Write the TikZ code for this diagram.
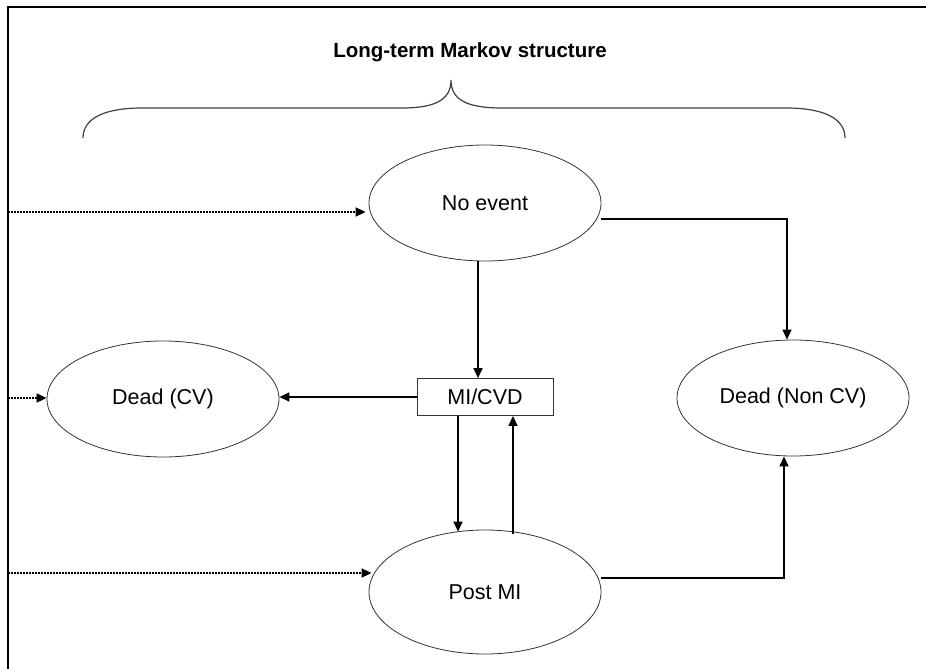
\documentclass[tikz,border=0pt]{standalone}
\usepackage{fontspec}
\setmainfont{Liberation Sans}
\usetikzlibrary{positioning,arrows.meta,shapes.geometric}

\begin{document}
\begin{tikzpicture}[
  x=1pt, y=-1pt,
  font=\fontsize{21.5}{25}\selectfont,
  state/.style={draw=black!80, line width=0.8pt, ellipse, minimum width=232pt, minimum height=116pt, inner sep=0pt},
  event/.style={draw=black!80, line width=0.8pt, minimum width=136pt, minimum height=37pt, inner sep=0pt},
  ar/.style={-{Triangle[length=10pt,width=9pt]}, line width=1.4pt, black},
  feed/.style={ar, dash pattern=on 1.5pt off 1.5pt, line width=1.6pt},
]
\useasboundingbox (0,0) rectangle (926,669);
% --- frame and heading ---
\draw[line width=1.5pt] (8,669) -- (8,7) -- (926,7);
\node[font=\fontsize{20.5}{24}\selectfont\bfseries] (title) at (470,52) {Long-term Markov structure};
\draw[black!75, line width=1.2pt] (83,138) .. controls (83,118) and (105,108) .. (142,108) -- (402,108)
  .. controls (435,108) and (451,100) .. (451,80) .. controls (451,100) and (467,108) .. (502,108)
  -- (786,108) .. controls (823,108) and (845,118) .. (845,138);
% --- states ---
\node[state] (noev)  at (485,203) {No event};
\node[event] (mi)    at (485,397) {MI/CVD};
\node[state] (cv)    at (163,399) {Dead (CV)};
\node[state] (noncv) at (793,398) {Dead (Non CV)};
\node[state, minimum height=124pt] (post) at (485,592) {Post MI};
% --- entry points on the left ---
\coordinate (in1) at (8,212);
\coordinate (in2) at (8,398);
\coordinate (in3) at (8,573);
\draw[feed] (in1) -- ([xshift=-3]in1 -| noev.west);
\draw[feed] (in2) -- (in2 -| cv.west);
\draw[feed] (in3) -- ([xshift=3]in3 -| post.west);
% --- transitions ---
\draw[ar] ([xshift=-7]noev.south) -- ([xshift=-7]mi.north);
\draw[ar] (mi.west) -- (mi.west -| cv.east);
\draw[ar] ([xshift=-27]mi.south) -- ([xshift=-27,yshift=-2]mi.south |- post.north);
\draw[ar] ([xshift=28,yshift=-4]mi.south |- post.north) -- ([xshift=28]mi.south);
\draw[ar] ([yshift=-16]noev.east) -| ([xshift=-6]noncv.north);
\draw[ar] ([yshift=14]post.east) -| ([xshift=-9]noncv.south);
\end{tikzpicture}
\end{document}
